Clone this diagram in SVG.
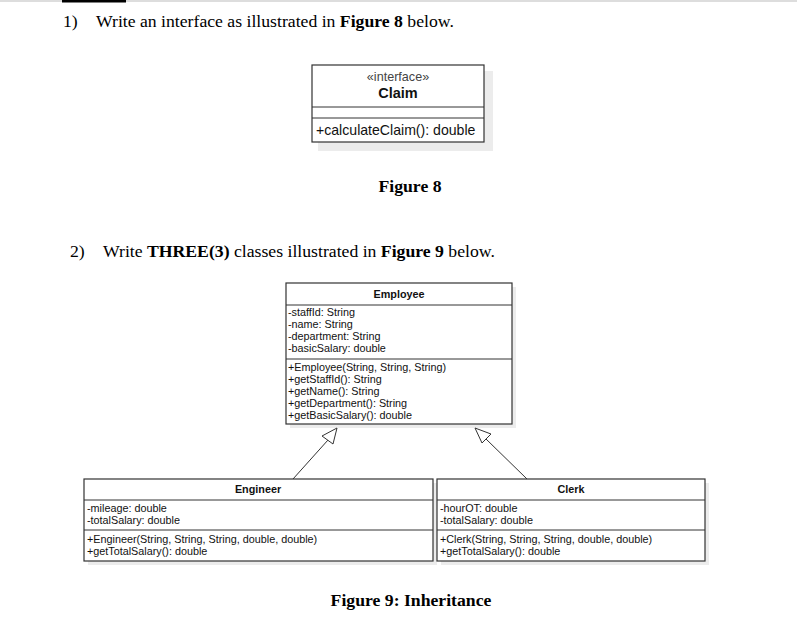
<svg xmlns="http://www.w3.org/2000/svg" width="797" height="617" viewBox="0 0 797 617">
<style>
.doc{font-family:"Liberation Serif","Times New Roman",serif;font-size:17.7px;fill:#000}
.b{font-weight:bold}
.uml{font-family:"Liberation Sans",Arial,sans-serif;font-size:10.8px;fill:#111}
.box{fill:#fff;stroke:#333;stroke-width:1.2}
.shadow{fill:#ececec}
.div{stroke:#333;stroke-width:1}
.conn{stroke:#333;stroke-width:1;fill:none}
.head{fill:#fff;stroke:#333;stroke-width:1}
</style>
<rect width="797" height="617" fill="#fff"/>
<line x1="0" y1="1" x2="797" y2="1" stroke="#ddd" stroke-width="2"/>
<rect x="62" y="0" width="64" height="2.5" fill="#000"/>

<text class="doc" x="63" y="27">1)</text>
<text class="doc" x="96" y="27">Write an interface as illustrated in <tspan class="b">Figure 8</tspan> below.</text>

<g id="claim">
<rect class="shadow" x="318" y="71" width="175" height="80"/>
<rect class="box" x="312" y="65" width="172" height="77"/>
<line class="div" x1="312" y1="107" x2="484" y2="107"/>
<line class="div" x1="312" y1="118" x2="484" y2="118"/>
<text class="uml" x="398" y="81" text-anchor="middle" style="font-size:12.6px;fill:#444">«interface»</text>
<text class="uml b" x="398" y="98" text-anchor="middle" style="font-size:14.5px">Claim</text>
<text class="uml" x="316" y="135" style="font-size:14.1px">+calculateClaim(): double</text>
</g>

<text class="doc b" x="410" y="192" text-anchor="middle">Figure 8</text>

<text class="doc" x="70" y="257">2)</text>
<text class="doc" x="103" y="257">Write <tspan class="b">THREE(3)</tspan> classes illustrated in <tspan class="b">Figure 9</tspan> below.</text>

<g id="employee">
<rect class="shadow" x="290" y="287" width="226" height="141"/>
<rect class="box" x="286" y="283" width="226" height="141"/>
<line class="div" x1="286" y1="305" x2="512" y2="305"/>
<line class="div" x1="286" y1="359" x2="512" y2="359"/>
<text class="uml b" x="399" y="298" text-anchor="middle">Employee</text>
<text class="uml" x="288" y="316">-staffId: String</text>
<text class="uml" x="288" y="328">-name: String</text>
<text class="uml" x="288" y="340">-department: String</text>
<text class="uml" x="288" y="352">-basicSalary: double</text>
<text class="uml" x="288" y="371">+Employee(String, String, String)</text>
<text class="uml" x="288" y="383">+getStaffId(): String</text>
<text class="uml" x="288" y="395">+getName(): String</text>
<text class="uml" x="288" y="407">+getDepartment(): String</text>
<text class="uml" x="288" y="419">+getBasicSalary(): double</text>
</g>

<g id="engineer">
<rect class="shadow" x="88" y="483" width="349" height="82"/>
<rect class="box" x="84" y="479" width="349" height="82"/>
<line class="div" x1="84" y1="500" x2="433" y2="500"/>
<line class="div" x1="84" y1="530" x2="433" y2="530"/>
<text class="uml b" x="258" y="493" text-anchor="middle">Engineer</text>
<text class="uml" x="87" y="512">-mileage: double</text>
<text class="uml" x="87" y="524">-totalSalary: double</text>
<text class="uml" x="87" y="543">+Engineer(String, String, String, double, double)</text>
<text class="uml" x="87" y="555">+getTotalSalary(): double</text>
</g>

<g id="clerk">
<rect class="shadow" x="441" y="483" width="268" height="82"/>
<rect class="box" x="437" y="479" width="268" height="82"/>
<line class="div" x1="437" y1="500" x2="705" y2="500"/>
<line class="div" x1="437" y1="530" x2="705" y2="530"/>
<text class="uml b" x="571" y="493" text-anchor="middle">Clerk</text>
<text class="uml" x="440" y="512">-hourOT: double</text>
<text class="uml" x="440" y="524">-totalSalary: double</text>
<text class="uml" x="440" y="543">+Clerk(String, String, String, double, double)</text>
<text class="uml" x="440" y="555">+getTotalSalary(): double</text>
</g>

<g id="connectors">
<line class="conn" x1="293" y1="479" x2="328" y2="440"/>
<polygon class="head" points="337,428 322,436 333,444"/>
<line class="conn" x1="527" y1="479" x2="486" y2="439"/>
<polygon class="head" points="475,428 482,443 491,434"/>
</g>

<text class="doc b" x="411" y="606" text-anchor="middle">Figure 9: Inheritance</text>
</svg>
